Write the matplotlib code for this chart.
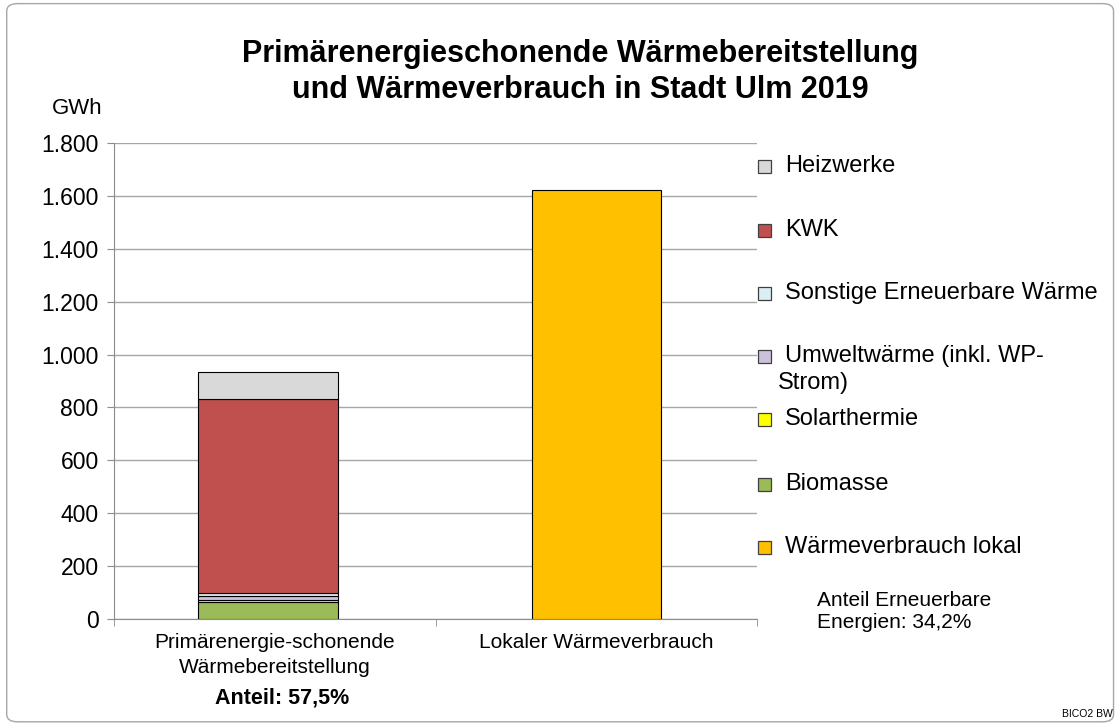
import matplotlib.pyplot as plt
from matplotlib.patches import Rectangle, FancyBboxPatch
from matplotlib.ticker import FuncFormatter

plt.rcParams['font.family'] = ['Liberation Sans', 'DejaVu Sans']

# data (GWh)
categories = ["Primärenergie-schonende\nWärmebereitstellung", "Lokaler Wärmeverbrauch"]
stack_labels = ["Biomasse", "Solarthermie", "Umweltwärme (inkl. WP-\nStrom)",
                "Sonstige Erneuerbare Wärme", "KWK", "Heizwerke"]
stack_values = [65, 7, 15, 10, 735, 101]
stack_colors = ["#9BBB59", "#FFFF00", "#CCC1DA", "#DAEEF3", "#C0504D", "#D9D9D9"]
consumption_label = "Wärmeverbrauch lokal"
consumption_value = 1622
consumption_color = "#FFC000"
yticks = [0, 200, 400, 600, 800, 1000, 1200, 1400, 1600, 1800]

W, H = 1118.0, 724.0
fig = plt.figure(figsize=(11.18, 7.24), dpi=100)
ax = fig.add_axes([114 / W, 1 - 619 / H, (757 - 114) / W, (619 - 143) / H])

# outer frame
fig.patches.append(FancyBboxPatch((0.006, 0.003), 0.99, 0.992, boxstyle="round,pad=0,rounding_size=0.01",
                                  transform=fig.transFigure, fill=False, edgecolor="#A6A6A6", lw=1))

bottom = 0
for val, col in zip(stack_values, stack_colors):
    ax.bar(-0.02, val, 0.435, bottom=bottom, color=col, edgecolor="black", linewidth=0.8, zorder=3)
    bottom += val
ax.bar(1, consumption_value, 0.4, color=consumption_color, edgecolor="black", linewidth=0.8, zorder=3)

ax.set_xlim(-0.5, 1.5)
ax.set_ylim(0, 1800)
ax.set_yticks(yticks)
ax.yaxis.set_major_formatter(FuncFormatter(lambda v, p: f"{int(v):,}".replace(",", ".")))
ax.grid(axis="y", color="#A6A6A6", lw=1, zorder=0)
for s in ["top", "right"]:
    ax.spines[s].set_visible(False)
for s in ["left", "bottom"]:
    ax.spines[s].set_color("#8C8C8C")
ax.tick_params(axis="y", labelsize=16.5, length=5, color="#8C8C8C", pad=6)
ax.set_xticks([0, 1])
ax.set_xticklabels(categories, fontsize=15, linespacing=1.4)
ax.tick_params(axis="x", length=0, pad=10)
ax.set_xticks([-0.5, 0.5, 1.5], minor=True)
ax.tick_params(axis="x", which="minor", length=5, color="#8C8C8C")

fig.text(282 / W, 1 - 698 / H, "Anteil: 57,5%", ha="center", va="center",
         fontsize=15.5, fontweight="bold")

fig.text(580 / W, 1 - 72 / H, "Primärenergieschonende Wärmebereitstellung\nund Wärmeverbrauch in Stadt Ulm 2019",
         ha="center", va="center", fontsize=22, fontweight="bold", linespacing=1.25)
fig.text(77 / W, 1 - 108 / H, "GWh", ha="center", va="center", fontsize=16)

# legend (manual, top to bottom)
legend_items = [(stack_labels[5], stack_colors[5], 166),
                (stack_labels[4], stack_colors[4], 230),
                (stack_labels[3], stack_colors[3], 293),
                (stack_labels[2], stack_colors[2], 356),
                (stack_labels[1], stack_colors[1], 419),
                (stack_labels[0], stack_colors[0], 484),
                (consumption_label, consumption_color, 547)]
for lab, col, ypx in legend_items:
    fig.patches.append(Rectangle((758 / W, 1 - (ypx + 7) / H), 13 / W, 13 / H, transform=fig.transFigure,
                                 facecolor=col, edgecolor="#404040", lw=0.9))
    if "\n" in lab:
        first, second = lab.split("\n")
        fig.text(785 / W, 1 - ypx / H, first, ha="left", va="center", fontsize=17)
        fig.text(778 / W, 1 - (ypx + 27) / H, second, ha="left", va="center", fontsize=17)
    else:
        fig.text(785 / W, 1 - ypx / H, lab, ha="left", va="center", fontsize=17)

fig.text(817 / W, 1 - 611 / H, "Anteil Erneuerbare\nEnergien: 34,2%", ha="left", va="center",
         fontsize=15, linespacing=1.2)
fig.text(1113 / W, 1 - 714 / H, "BICO2 BW", ha="right", va="center", fontsize=7.5)

fig.savefig("out.png", dpi=100)
